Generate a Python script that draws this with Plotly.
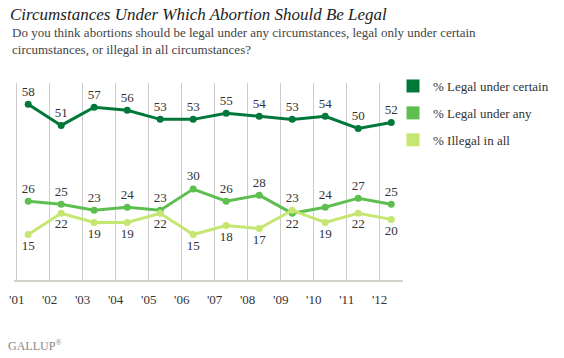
import plotly.graph_objects as go

years = [2001, 2002, 2003, 2004, 2005, 2006, 2007, 2008, 2009, 2010, 2011, 2012]
poll_dates = [f"{y}-05-08" for y in years]
tick_dates = [f"{y}-01-01" for y in years]
tick_labels = ["'01", "'02", "'03", "'04", "'05", "'06", "'07", "'08", "'09", "'10", "'11", "'12"]

legal_certain = [58, 51, 57, 56, 53, 53, 55, 54, 53, 54, 50, 52]
legal_any = [26, 25, 23, 24, 23, 30, 26, 28, 22, 24, 27, 25]
illegal_all = [15, 22, 19, 19, 22, 15, 18, 17, 23, 19, 22, 20]

series_names = ["% Legal under certain", "% Legal under any", "% Illegal in all"]
colors = ["#00783a", "#5ebf50", "#c5e670"]

pos_certain = ["top center"] * 12
pos_any = ["top center"] * 12
pos_any[8] = "bottom center"
pos_illegal = ["bottom center"] * 12
pos_illegal[8] = "top center"

SERIF = "Liberation Serif"
TXT = "#333333"

fig = go.Figure()
for vals, pos, col in zip([legal_certain, legal_any, illegal_all],
                          [pos_certain, pos_any, pos_illegal], colors):
    fig.add_trace(go.Scatter(
        x=poll_dates, y=vals, mode="lines+markers+text",
        text=[str(v) for v in vals], textposition=pos,
        textfont=dict(family=SERIF, size=13, color=TXT),
        line=dict(color=col, width=3), marker=dict(color=col, size=7),
        showlegend=False, cliponaxis=False))

for i, (name, col) in enumerate(zip(series_names, colors)):
    fig.add_trace(go.Scatter(
        x=[None], y=[None], mode="markers", name=name, legendgroup=f"g{i}",
        marker=dict(symbol="square", size=13, color=col), showlegend=True))

PH = 197.5  # plot height in px
PW = 389.0  # plot width in px

fig.update_layout(
    width=564, height=358,
    margin=dict(l=14, r=161, t=83, b=77.5, autoexpand=False),
    paper_bgcolor="white", plot_bgcolor="white",
    font=dict(family=SERIF, size=13, color=TXT),
    title=dict(text="<i>Circumstances Under Which Abortion Should Be Legal</i>",
               x=10 / 564, xanchor="left", y=1 - 14 / 358, yanchor="middle",
               font=dict(family=SERIF, size=17, color="#222222")),
    xaxis=dict(type="date", range=["2000-12-02", "2012-09-15"],
               tickvals=tick_dates, ticktext=tick_labels,
               showgrid=True, gridcolor="#cccccc", gridwidth=1,
               showline=True, linecolor="#d3d3cb", linewidth=2,
               ticks="outside", ticklen=6, tickcolor="rgba(0,0,0,0)",
               tickfont=dict(family=SERIF, size=13, color=TXT), zeroline=False),
    yaxis=dict(range=[0, 65], showgrid=False, showticklabels=False,
               zeroline=False, showline=False),
    legend=dict(x=(393 - 14) / PW, xanchor="left", y=(280.5 - 71) / PH, yanchor="top",
                font=dict(family=SERIF, size=13, color=TXT),
                tracegroupgap=7, bgcolor="rgba(0,0,0,0)"),
    annotations=[
        dict(text="Do you think abortions should be legal under any circumstances, legal only under certain<br>circumstances, or illegal in all circumstances?",
             xref="paper", yref="paper", x=-4 / PW, y=(280.5 - 23) / PH,
             xanchor="left", yanchor="top", align="left", showarrow=False,
             font=dict(family=SERIF, size=13, color="#444444")),
        dict(text="GALLUP<sup>®</sup>", xref="paper", yref="paper",
             x=-8 / PW, y=(280.5 - 346) / PH, xanchor="left", yanchor="middle",
             showarrow=False, font=dict(family=SERIF, size=12, color="#888888")),
    ],
)

fig.write_html("out.html", config={"displayModeBar": False},
               post_script="document.body.style.margin='0';")
